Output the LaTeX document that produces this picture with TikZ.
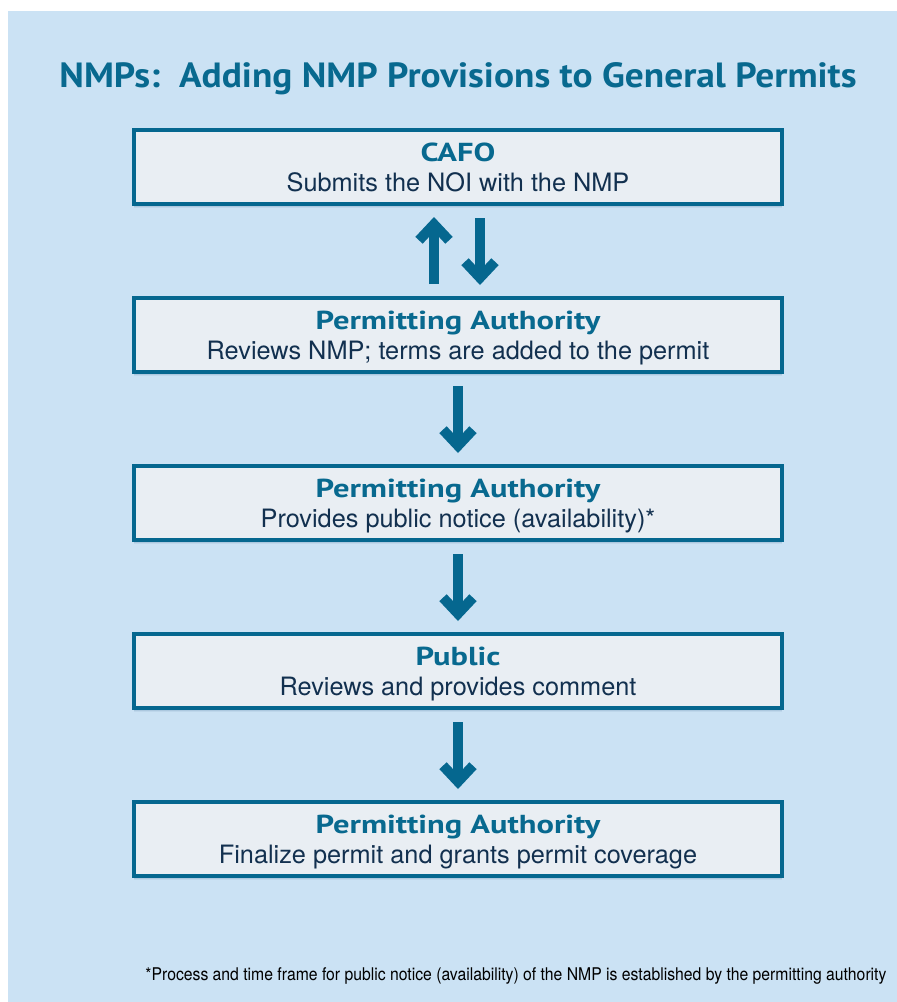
\documentclass[tikz,border=0pt]{standalone}
\usepackage{fontspec}
\setmainfont{TeX Gyre Heros}
\newfontfamily\headfont{PT Sans}
\usepackage{graphicx}
\usetikzlibrary{positioning,arrows.meta,shadows}
\definecolor{panelblue}{HTML}{CBE2F4}
\definecolor{boxfill}{HTML}{E9EEF3}
\definecolor{boxline}{HTML}{05678F}
\definecolor{headblue}{HTML}{08698F}
\definecolor{bodynavy}{HTML}{12304F}
\definecolor{shadeblue}{HTML}{2B5C8A}
\tikzset{step node/.style={rectangle,draw=boxline,line width=4pt,fill=boxfill,
            minimum width=648pt,minimum height=74pt,inner sep=0pt,align=center,
            text=bodynavy,font=\fontsize{25.3}{30}\selectfont,
            general shadow={shadow yshift=-4pt,xscale=1.012,yscale=1.1,fill=shadeblue,opacity=0.08},
            general shadow={shadow yshift=-3pt,xscale=1.006,yscale=1.05,fill=shadeblue,opacity=0.12},
            general shadow={shadow xshift=1pt,shadow yshift=-2pt,fill=shadeblue,opacity=0.2}},
         flow arrow/.style={draw=boxline,line width=10pt,
            -{Straight Barb[length=16pt,width=30pt,line join=miter]},
            shorten <=12pt,shorten >=11pt},
            }
\newcommand{\stephead}[1]{{\headfont\bfseries\fontsize{26}{30}\selectfont\color{headblue}\rule{0pt}{24pt}\scalebox{1.25}[1]{#1}}}
\newcommand{\stepbody}[1]{\rule[-5pt]{0pt}{5pt}#1}

\begin{document}
\begin{tikzpicture}[x=1pt,y=-1pt]
    \useasboundingbox (0,0) rectangle (897,1002);
    \fill[panelblue] (8,11) rectangle (897,1002);

    \node[anchor=base,text=headblue] (title) at (458,87)
        {\resizebox{797pt}{\height}{\headfont\bfseries\fontsize{35}{40}\selectfont NMPs:\ \ Adding NMP Provisions to General Permits}};

    \node[step node] (1) at (458,167) {\stephead{CAFO}\\\stepbody{Submits the NOI with the NMP}};
    \node[step node] (2) [below = 90pt of 1] {\stephead{Permitting Authority}\\\stepbody{Reviews NMP; terms are added to the permit}};
    \node[step node] (3) [below = 90pt of 2] {\stephead{Permitting Authority}\\\stepbody{Provides public notice (availability)*}};
    \node[step node] (4) [below = 90pt of 3] {\stephead{Public}\\\stepbody{Reviews and provides comment}};
    \node[step node] (5) [below = 90pt of 4] {\stephead{Permitting Authority}\\\stepbody{Finalize permit and grants permit coverage}};

    % CAFO and authority go back and forth
    \draw[flow arrow] ([xshift=-24pt]2.north) -- ([xshift=-24pt]1.south);
    \draw[flow arrow] ([xshift=22pt]1.south) -- ([xshift=22pt]2.north);
    \draw[flow arrow] (2) -- (3);
    \draw[flow arrow] (3) -- (4);
    \draw[flow arrow] (4) -- (5);

    \node[anchor=base east] (note) at (890,980)
        {\resizebox{741pt}{\height}{\fontsize{17.5}{20}\selectfont *Process and time frame for public notice (availability) of the NMP is established by the permitting authority}};
\end{tikzpicture}
\end{document}
